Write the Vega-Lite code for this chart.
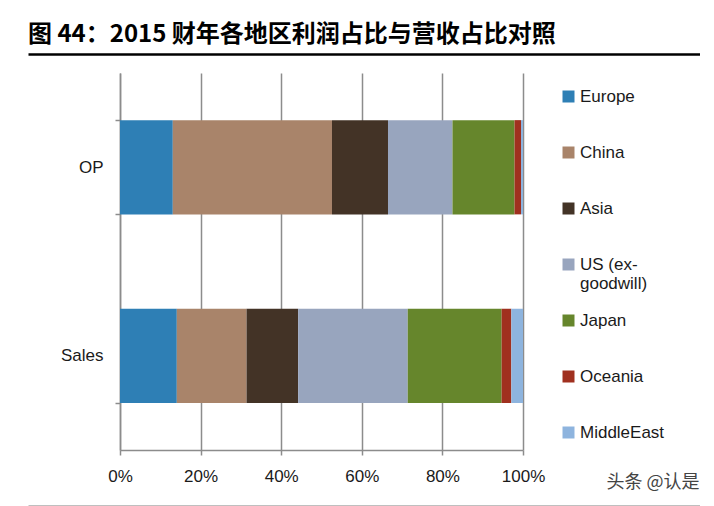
{
  "$schema": "https://vega.github.io/schema/vega-lite/v6.json",
  "padding": {"left": 28, "top": 23, "right": 0, "bottom": 0},
  "spacing": 8,
  "config": {
    "view": {"stroke": null},
    "font": "Liberation Sans"
  },
  "vconcat": [
    {
      "width": 672,
      "height": 2,
      "title": {
        "text": "图 44：2015 财年各地区利润占比与营收占比对照",
        "anchor": "start",
        "font": "Noto Sans CJK SC",
        "fontSize": 24,
        "fontWeight": "bold",
        "color": "#000000",
        "baseline": "alphabetic",
        "offset": -12
      },
      "data": {"values": [{"v": 0}, {"v": 1}]},
      "mark": {"type": "point", "opacity": 0, "size": 0},
      "encoding": {
        "x": {
          "field": "v",
          "type": "quantitative",
          "scale": {"domain": [0, 1], "nice": false},
          "axis": {"orient": "top", "ticks": false, "labels": false, "grid": false, "title": null, "domainColor": "#000000", "domainWidth": 2.5, "minExtent": 0, "maxExtent": 0}
        }
      }
    },
    {
      "spacing": 0,
      "bounds": "flush",
      "hconcat": [
        {
          "width": 92,
          "height": 377,
          "data": {"values": [{"v": 0}]},
          "mark": {"type": "point", "opacity": 0, "size": 0}
        },
        {
          "width": 403,
          "height": 377,
          "data": {
            "values": [
              {"metric": "OP", "region": "Europe", "share": 13.1},
              {"metric": "OP", "region": "China", "share": 39.5},
              {"metric": "OP", "region": "Asia", "share": 13.9},
              {"metric": "OP", "region": "US (ex-goodwill)", "share": 16.0},
              {"metric": "OP", "region": "Japan", "share": 15.4},
              {"metric": "OP", "region": "Oceania", "share": 1.6},
              {"metric": "OP", "region": "MiddleEast", "share": 0.5},
              {"metric": "Sales", "region": "Europe", "share": 14.1},
              {"metric": "Sales", "region": "China", "share": 17.3},
              {"metric": "Sales", "region": "Asia", "share": 12.8},
              {"metric": "Sales", "region": "US (ex-goodwill)", "share": 27.2},
              {"metric": "Sales", "region": "Japan", "share": 23.3},
              {"metric": "Sales", "region": "Oceania", "share": 2.4},
              {"metric": "Sales", "region": "MiddleEast", "share": 2.9}
            ]
          },
          "transform": [
            {"calculate": "indexof(['Europe', 'China', 'Asia', 'US (ex-goodwill)', 'Japan', 'Oceania', 'MiddleEast'], datum.region)", "as": "stackOrder"}
          ],
          "mark": {"type": "bar"},
          "encoding": {
            "x": {
              "field": "share",
              "type": "quantitative",
              "stack": "normalize",
              "scale": {"domain": [0, 1], "nice": false},
              "axis": {
                "values": [0, 0.2, 0.4, 0.6, 0.8, 1],
                "format": ".0%",
                "title": "头条 @认是",
                "titleFont": "Noto Sans CJK SC",
                "titleFontSize": 18,
                "titleFontWeight": "normal",
                "titleColor": "#444444",
                "titleAlign": "right",
                "titleBaseline": "middle",
                "titleX": 579,
                "titleY": 32,
                "labelFlush": false,
                "grid": true,
                "gridColor": "#8c8c8c",
                "gridWidth": 1.5,
                "domainColor": "#8c8c8c",
                "domainWidth": 1.5,
                "tickColor": "#8c8c8c",
                "tickWidth": 1.5,
                "tickSize": 5,
                "labelFontSize": 17,
                "labelColor": "#1a1a1a",
                "labelPadding": 13
              }
            },
            "y": {
              "field": "metric",
              "type": "nominal",
              "sort": ["OP", "Sales"],
              "scale": {"paddingInner": 0.5, "paddingOuter": 0.25},
              "axis": {
                "title": null,
                "tickBand": "extent",
                "domainColor": "#8c8c8c",
                "domainWidth": 1.5,
                "tickColor": "#8c8c8c",
                "tickWidth": 1.5,
                "tickSize": 5,
                "labelFontSize": 17,
                "labelColor": "#1a1a1a",
                "labelPadding": 12
              }
            },
            "order": {"field": "stackOrder"},
            "color": {
              "field": "region",
              "type": "nominal",
              "sort": ["Europe", "China", "Asia", "US (ex-goodwill)", "Japan", "Oceania", "MiddleEast"],
              "scale": {
                "domain": ["Europe", "China", "Asia", "US (ex-goodwill)", "Japan", "Oceania", "MiddleEast"],
                "range": ["#2e7fb5", "#a9846a", "#433326", "#98a5be", "#66862c", "#a0301f", "#8eb4de"]
              },
              "legend": {
                "title": null,
                "orient": "none",
                "legendX": 532,
                "legendY": 34,
                "gridAlign": "all",
                "symbolType": "square",
                "symbolSize": 144,
                "symbolStrokeWidth": 0,
                "labelFontSize": 17,
                "labelColor": "#1a1a1a",
                "labelExpr": "datum.label == 'US (ex-goodwill)' ? ['US (ex-', 'goodwill)'] : datum.label",
                "rowPadding": 19,
                "padding": 0,
                "labelOffset": 3
              }
            }
          }
        }
      ]
    },
    {
      "width": 672,
      "height": 7,
      "data": {"values": [{"v": 0}, {"v": 1}]},
      "mark": {"type": "point", "opacity": 0, "size": 0},
      "encoding": {
        "x": {
          "field": "v",
          "type": "quantitative",
          "scale": {"domain": [0, 1], "nice": false},
          "axis": {"orient": "bottom", "ticks": false, "labels": false, "grid": false, "title": null, "domainColor": "#000000", "domainWidth": 1.5, "minExtent": 0, "maxExtent": 0}
        }
      }
    }
  ]
}
